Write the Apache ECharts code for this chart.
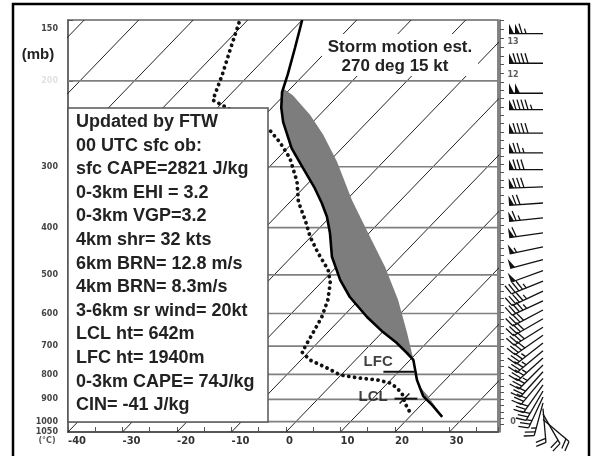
<!DOCTYPE html>
<html>
<head>
<meta charset="utf-8">
<title>Skew-T sounding</title>
<script src="https://cdn.jsdelivr.net/npm/echarts@6/dist/echarts.min.js"></script>
<style>
  html, body { margin: 0; padding: 0; background: #fff; }
  #main { width: 592px; height: 456px; }
</style>
</head>
<body>
<div id="main"></div>
<script>
// environment temperature profile (mb, deg C)
var envP = [150, 171, 194, 211, 227, 243, 275, 302, 332, 356, 380, 410, 459, 512, 555, 610, 655, 690, 723, 747, 783, 821, 853, 886, 924, 978];
var envT = [-70.0, -66.4, -63.0, -60.9, -58.3, -55.4, -49.2, -43.6, -37.9, -34.0, -30.6, -27.2, -22.6, -17.0, -12.2, -5.5, 0.1, 4.6, 8.2, 10.6, 12.7, 14.8, 16.8, 18.8, 22.0, 26.0];

// dewpoint profile
var dewP = [152, 173, 194, 219, 238, 250, 267, 288, 322, 354, 386, 418, 451, 488, 519, 563, 610, 658, 720, 747, 776, 802, 814, 821, 833, 853, 882, 916, 964];
var dewT = [-81.1, -77.9, -75.0, -72.2, -63.1, -57.1, -52.5, -47.8, -42.3, -38.5, -34.0, -30.1, -25.8, -21.0, -18.3, -15.7, -13.8, -12.6, -11.2, -8.4, -3.8, -0.2, 4.0, 7.5, 10.4, 12.6, 14.9, 16.7, 19.7];

// lifted surface parcel
var parcelP = [978, 937, 886, 845, 802, 754, 723, 658, 563, 482, 410, 351, 293, 258, 235, 214, 207];
var parcelT = [26.0, 23.3, 19.7, 16.3, 12.8, 11.1, 9.1, 4.7, -2.8, -11.0, -20.2, -29.0, -38.5, -45.8, -51.7, -58.4, -61.5];

// winds: pressure (mb), direction (deg), speed (kt)
var windP = [160, 184, 212, 229, 256, 281, 304, 330, 356, 382, 410, 438, 465, 490, 515, 540, 565, 590, 615, 640, 665, 690, 715, 740, 765, 790, 815, 840, 865, 890, 915, 940, 965, 990];
var windDir = [270, 270, 270, 270, 270, 270, 270, 268, 266, 264, 262, 258, 255, 250, 248, 245, 245, 242, 240, 238, 235, 232, 230, 228, 225, 222, 220, 215, 210, 205, 195, 175, 150, 130];
var windSpd = [115, 90, 100, 95, 90, 75, 80, 80, 70, 65, 60, 55, 50, 50, 45, 45, 45, 40, 40, 40, 40, 35, 35, 35, 35, 30, 30, 30, 30, 25, 25, 20, 20, 20];

var isoTemps = [-110, -100, -90, -80, -70, -60, -50, -40, -30, -20, -10, 0, 10, 20, 30];
var isobars = [200, 300, 400, 500, 600, 700, 800, 900, 1000];
var pLabels = [150, 200, 300, 400, 500, 600, 700, 800, 900, 1000, 1050];
var hgtLabels = ['13', '12', '0'];
var hgtLabelP = [166, 194, 1000];

var lfcP = 790, lclP = 897;

var boxLines = ['Updated by FTW', '00 UTC sfc ob:', 'sfc CAPE=2821 J/kg', '0-3km EHI = 3.2', '0-3km VGP=3.2',
  '4km shr= 32 kts', '6km BRN= 12.8 m/s', '4km BRN= 8.3m/s', '3-6km sr wind= 20kt', 'LCL ht= 642m',
  'LFC ht= 1940m', '0-3km CAPE= 74J/kg', 'CIN= -41 J/kg'];

var SKEW = 37.5;
var P_BOT = 1050, P_TOP = 150;
var X_MIN = -40, X_MAX = 38.9;
var STATION_X = 43;

function skewX(t, p) {
  return t + SKEW * Math.log(P_BOT / p);
}

function interpEnv(p) {
  for (var i = 0; i < envP.length - 1; i++) {
    if (p >= envP[i] && p <= envP[i + 1]) {
      var f = Math.log(p / envP[i]) / Math.log(envP[i + 1] / envP[i]);
      return envT[i] + f * (envT[i + 1] - envT[i]);
    }
  }
  return envT[envT.length - 1];
}

// area between parcel and environment, pLow above pHigh
function capeArea(pLow, pHigh) {
  var pts = [];
  parcelP.forEach(function (p, i) {
    if (p >= pLow && p <= pHigh) pts.push([skewX(parcelT[i], p), p]);
  });
  pts.sort(function (a, b) { return a[1] - b[1]; });
  pts.push([skewX(interpEnv(pHigh), pHigh), pHigh]);
  for (var i = envP.length - 1; i >= 0; i--) {
    if (envP[i] > pLow && envP[i] < pHigh) pts.push([skewX(envT[i], envP[i]), envP[i]]);
  }
  pts.push([skewX(interpEnv(pLow), pLow), pLow]);
  return pts;
}
var capeAreas = [capeArea(207, 754), capeArea(845, 978)];

// small height ticks on the wind column (standard atmosphere)
var hgtTicks = [];
for (var h = 0; h <= 13.75; h += 0.25) {
  var ph = 1013.25 * Math.pow(1 - 0.0065 * h * 1000 / 288.15, 5.2559);
  if (ph <= P_BOT && ph >= P_TOP) hgtTicks.push(ph);
}

var series = [];

isoTemps.forEach(function (t) {
  series.push({
    type: 'line', silent: true, symbol: 'none', z: 1,
    data: [[skewX(t, P_BOT), P_BOT], [skewX(t, P_TOP), P_TOP]],
    lineStyle: { color: '#222', width: 1 }
  });
});

isobars.forEach(function (p) {
  series.push({
    type: 'line', silent: true, symbol: 'none', z: 1,
    data: [[X_MIN, p], [X_MAX, p]],
    lineStyle: { color: '#808080', width: 1.6 }
  });
});

series.push({
  type: 'custom', silent: true, z: 2,
  data: [[0, 500]],
  renderItem: function (params, api) {
    return {
      type: 'group',
      children: capeAreas.map(function (poly) {
        return {
          type: 'polygon',
          shape: { points: poly.map(function (d) { return api.coord(d); }) },
          style: { fill: '#7d7d7d' }
        };
      })
    };
  }
});

series.push({
  name: 'Temperature', type: 'line', symbol: 'none', z: 3,
  data: envP.map(function (p, i) { return [skewX(envT[i], p), p]; }),
  lineStyle: { color: '#000', width: 2.6 }
});

series.push({
  name: 'Dewpoint', type: 'line', symbol: 'none', z: 3,
  data: dewP.map(function (p, i) { return [skewX(dewT[i], p), p]; }),
  lineStyle: { color: '#111', width: 3.8, type: [0.1, 5.8], cap: 'round' }
});

// LFC / LCL markers
series.push({
  type: 'line', symbol: 'none', z: 4,
  data: [[skewX(7.2, lfcP), lfcP], [skewX(12.9, lfcP), lfcP]],
  lineStyle: { color: '#111', width: 2 }
});
series.push({
  type: 'line', symbol: 'none', z: 4,
  data: [[skewX(14.0, lclP), lclP], [skewX(18.2, lclP), lclP]],
  lineStyle: { color: '#111', width: 2 }
});
series.push({
  type: 'line', symbol: 'none', z: 4,
  data: [[skewX(15.8, 875), 875], [skewX(15.8, 918), 918]],
  lineStyle: { color: '#111', width: 1.5 }
});
series.push({
  type: 'scatter', symbolSize: 0, z: 5,
  data: [
    { value: [skewX(4.5, 754), 754], name: 'LFC' },
    { value: [skewX(9.8, 890), 890], name: 'LCL' }
  ],
  label: {
    show: true, position: 'inside', formatter: '{b}',
    fontFamily: 'Liberation Sans, Arial, sans-serif', fontWeight: 'bold', fontSize: 15, color: '#111'
  }
});

// wind barbs
function renderBarb(params, api) {
  var p = api.value(1), dir = api.value(2), spd = api.value(3);
  var o = api.coord([STATION_X, p]);
  var rad = dir * Math.PI / 180;
  var dx = Math.sin(rad), dy = -Math.cos(rad);
  var nx = -dy, ny = dx;
  var L = 34, bl = 10, gap = 4, pw = 5;
  var tip = [o[0] + dx * L, o[1] + dy * L];
  var kids = [{
    type: 'line', shape: { x1: o[0], y1: o[1], x2: tip[0], y2: tip[1] },
    style: { stroke: '#111', lineWidth: 1.3 }
  }];
  function at(d) { return [tip[0] - dx * d, tip[1] - dy * d]; }
  var rest = Math.round(spd / 5) * 5;
  var pos = 0;
  while (rest >= 50) {
    var a = at(pos), b = at(pos + pw);
    kids.push({ type: 'polygon', shape: { points: [a, b, [a[0] + nx * bl, a[1] + ny * bl]] }, style: { fill: '#111' } });
    pos += pw + 1;
    rest -= 50;
  }
  if (pos > 0) pos += 1;
  while (rest >= 10) {
    var c = at(pos);
    kids.push({ type: 'line', shape: { x1: c[0], y1: c[1], x2: c[0] + nx * bl + dx * 3, y2: c[1] + ny * bl + dy * 3 }, style: { stroke: '#111', lineWidth: 1.3 } });
    pos += gap;
    rest -= 10;
  }
  if (rest >= 5) {
    if (pos === 0) pos = gap;
    var e = at(pos);
    kids.push({ type: 'line', shape: { x1: e[0], y1: e[1], x2: e[0] + nx * bl * 0.5 + dx * 1.5, y2: e[1] + ny * bl * 0.5 + dy * 1.5 }, style: { stroke: '#111', lineWidth: 1.3 } });
  }
  return { type: 'group', children: kids };
}

series.push({
  type: 'custom', xAxisIndex: 1, yAxisIndex: 1, z: 3, clip: false,
  data: windP.map(function (p, i) { return [STATION_X, p, windDir[i], windSpd[i]]; }),
  renderItem: renderBarb
});

series.push({
  type: 'scatter', xAxisIndex: 1, yAxisIndex: 1, symbolSize: 0, z: 4,
  data: hgtLabelP.map(function (p, i) { return { value: [13, p], name: hgtLabels[i] }; }),
  label: { show: true, position: 'inside', formatter: '{b}', fontSize: 8, fontWeight: 'bold', color: '#333', fontFamily: 'DejaVu Sans' }
});

var graphics = [
  { type: 'rect', z: 100, shape: { x: 13, y: 4, width: 576, height: 460 }, style: { fill: 'none', stroke: '#000', lineWidth: 2.5 } },
  { type: 'rect', z: 100, shape: { x: 68, y: 108, width: 200, height: 314 }, style: { fill: '#fff', stroke: '#555', lineWidth: 1.5 } },
  { type: 'rect', z: 100, shape: { x: 322, y: 34, width: 156, height: 42 }, style: { fill: '#fff' } },
  { type: 'text', z: 101, x: 400, y: 47, style: { text: 'Storm motion est.', fontSize: 17, fontWeight: 'bold', fontFamily: 'Liberation Sans, Arial, sans-serif', fill: '#222', align: 'center', verticalAlign: 'middle' } },
  { type: 'text', z: 101, x: 395, y: 66, style: { text: '270 deg 15 kt', fontSize: 17, fontWeight: 'bold', fontFamily: 'Liberation Sans, Arial, sans-serif', fill: '#222', align: 'center', verticalAlign: 'middle' } },
  { type: 'text', z: 101, x: 38, y: 55, style: { text: '(mb)', fontSize: 15, fontWeight: 'bold', fontFamily: 'Liberation Sans, Arial, sans-serif', fill: '#222', align: 'center', verticalAlign: 'middle' } },
  { type: 'text', z: 101, x: 47, y: 441, style: { text: '(\u00B0C)', fontSize: 8, fontWeight: 'bold', fontFamily: 'DejaVu Sans', fill: '#555', align: 'center', verticalAlign: 'middle' } }
];
boxLines.forEach(function (s, i) {
  graphics.push({
    type: 'text', z: 101, x: 76, y: 122 + i * 23.6,
    style: { text: s, fontSize: 18, fontWeight: 'bold', fontFamily: 'Liberation Sans, Arial, sans-serif', fill: '#222', verticalAlign: 'middle' }
  });
});

var option = {
  animation: false,
  backgroundColor: '#fff',
  grid: [
    { left: 68, top: 20, width: 430, height: 412, show: true, borderColor: '#666', borderWidth: 1.6, backgroundColor: 'transparent' },
    { left: 500, top: 20, width: 88, height: 412 }
  ],
  xAxis: [
    {
      type: 'value', min: X_MIN, max: X_MAX, interval: 10,
      axisLine: { show: true, onZero: false, lineStyle: { color: '#555', width: 2 } },
      axisTick: { show: true, inside: true, length: 5, lineStyle: { color: '#555' } },
      minorTick: { show: true, splitNumber: 2, length: 5, lineStyle: { color: '#555' } },
      splitLine: { show: false },
      axisLabel: {
        align: 'left', margin: 4, fontSize: 10, fontWeight: 'bold', color: '#333', fontFamily: 'DejaVu Sans',
        formatter: function (v) { return (Math.round(v) === v && v % 10 === 0) ? String(v) : ''; }
      }
    },
    { type: 'value', gridIndex: 1, min: 0, max: 88, show: false }
  ],
  yAxis: [
    {
      type: 'log', logBase: 10, min: P_TOP, max: P_BOT, inverse: true,
      axisLine: { show: true, onZero: false, lineStyle: { color: '#666', width: 1.6 } },
      axisTick: { show: true, inside: true, length: 5, customValues: pLabels, lineStyle: { color: '#555' } },
      minorTick: { show: false },
      splitLine: { show: false },
      axisLabel: {
        customValues: pLabels, margin: 10, fontSize: 8, fontWeight: 'bold', fontFamily: 'DejaVu Sans',
        color: function (v) { return Math.round(v) === 200 ? '#e2e2e2' : '#444'; },
        formatter: function (v) { v = Math.round(v); return v === 150 ? '{t|150}' : String(v); },
        rich: { t: { padding: [18, 0, 0, 0], fontSize: 8, fontWeight: 'bold', fontFamily: 'DejaVu Sans' } }
      }
    },
    {
      type: 'log', logBase: 10, gridIndex: 1, min: P_TOP, max: P_BOT, inverse: true,
      axisLine: { show: true, onZero: false, lineStyle: { color: '#555', width: 1.5 } },
      axisTick: { show: true, inside: true, length: 4, customValues: hgtTicks, lineStyle: { color: '#555' } },
      minorTick: { show: false },
      axisLabel: { show: false },
      splitLine: { show: false }
    }
  ],
  graphic: graphics,
  series: series
};

var chart = echarts.init(document.getElementById('main'));
chart.setOption(option);
</script>
</body>
</html>
